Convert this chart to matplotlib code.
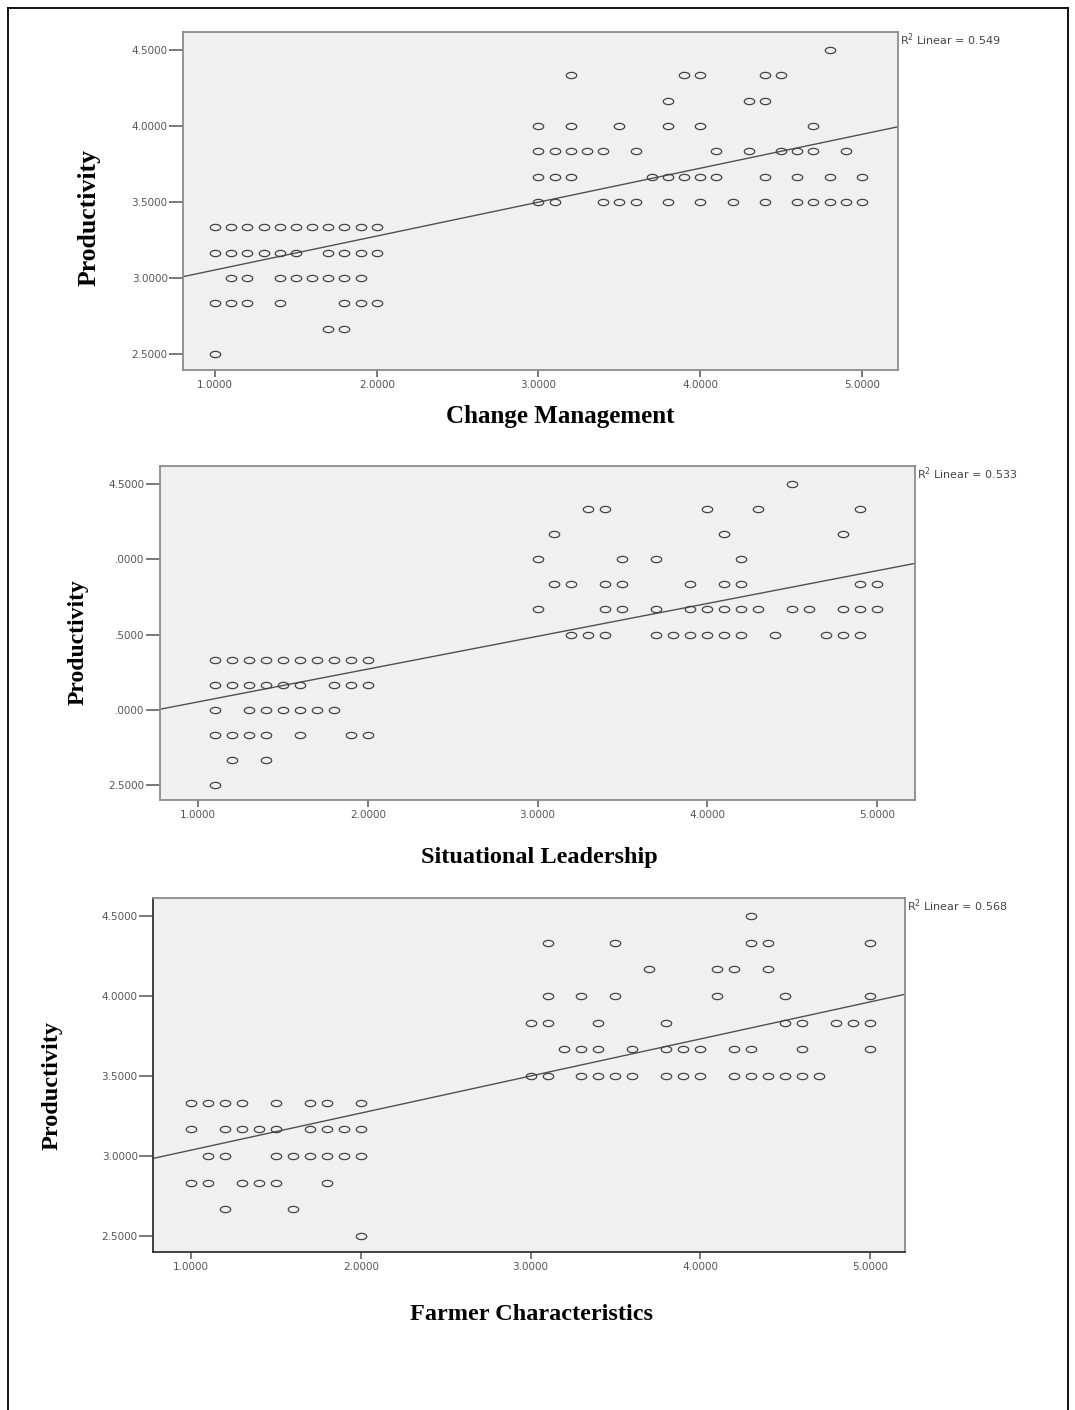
import numpy as np
import matplotlib
matplotlib.use("Agg")
import matplotlib.pyplot as plt
from matplotlib.path import Path
from matplotlib.lines import Line2D

# ---------------- data ----------------
levels = [4.5, 4.3333, 4.1667, 4.0, 3.8333, 3.6667, 3.5,
          3.3333, 3.1667, 3.0, 2.8333, 2.6667, 2.5]

cm_rows = [
    [4.8],
    [3.2, 3.9, 4.0, 4.4, 4.5],
    [3.8, 4.3, 4.4],
    [3.0, 3.2, 3.5, 3.8, 4.0, 4.7],
    [3.0, 3.1, 3.2, 3.3, 3.4, 3.6, 4.1, 4.3, 4.5, 4.6, 4.7, 4.9],
    [3.0, 3.1, 3.2, 3.7, 3.8, 3.9, 4.0, 4.1, 4.4, 4.6, 4.8, 5.0],
    [3.0, 3.1, 3.4, 3.5, 3.6, 3.8, 4.0, 4.2, 4.4, 4.6, 4.7, 4.8, 4.9, 5.0],
    [1.0, 1.1, 1.2, 1.3, 1.4, 1.5, 1.6, 1.7, 1.8, 1.9, 2.0],
    [1.0, 1.1, 1.2, 1.3, 1.4, 1.5, 1.7, 1.8, 1.9, 2.0],
    [1.1, 1.2, 1.4, 1.5, 1.6, 1.7, 1.8, 1.9],
    [1.0, 1.1, 1.2, 1.4, 1.8, 1.9, 2.0],
    [1.7, 1.8],
    [1.0],
]

sl_rows = [
    [4.5],
    [3.3, 3.4, 4.0, 4.3, 4.9],
    [3.1, 4.1, 4.8],
    [3.0, 3.5, 3.7, 4.2],
    [3.1, 3.2, 3.4, 3.5, 3.9, 4.1, 4.2, 4.9, 5.0],
    [3.0, 3.4, 3.5, 3.7, 3.9, 4.0, 4.1, 4.2, 4.3, 4.5, 4.6, 4.8, 4.9, 5.0],
    [3.2, 3.3, 3.4, 3.7, 3.8, 3.9, 4.0, 4.1, 4.2, 4.4, 4.7, 4.8, 4.9],
    [1.1, 1.2, 1.3, 1.4, 1.5, 1.6, 1.7, 1.8, 1.9, 2.0],
    [1.1, 1.2, 1.3, 1.4, 1.5, 1.6, 1.8, 1.9, 2.0],
    [1.1, 1.3, 1.4, 1.5, 1.6, 1.7, 1.8],
    [1.1, 1.2, 1.3, 1.4, 1.6, 1.9, 2.0],
    [1.2, 1.4],
    [1.1],
]

fc_rows = [
    [4.3],
    [3.1, 3.5, 4.3, 4.4, 5.0],
    [3.7, 4.1, 4.2, 4.4],
    [3.1, 3.3, 3.5, 4.1, 4.5, 5.0],
    [3.0, 3.1, 3.4, 3.8, 4.5, 4.6, 4.8, 4.9, 5.0],
    [3.2, 3.3, 3.4, 3.6, 3.8, 3.9, 4.0, 4.2, 4.3, 4.6, 5.0],
    [3.0, 3.1, 3.3, 3.4, 3.5, 3.6, 3.8, 3.9, 4.0, 4.2, 4.3, 4.4, 4.5, 4.6, 4.7],
    [1.0, 1.1, 1.2, 1.3, 1.5, 1.7, 1.8, 2.0],
    [1.0, 1.2, 1.3, 1.4, 1.5, 1.7, 1.8, 1.9, 2.0],
    [1.1, 1.2, 1.5, 1.6, 1.7, 1.8, 1.9, 2.0],
    [1.0, 1.1, 1.3, 1.4, 1.5, 1.8],
    [1.2, 1.6],
    [2.0],
]

# fitted lines (intercept, slope) and R^2 labels
cm_fit = (2.830, 0.223)
sl_fit = (2.834, 0.218)
fc_fit = (2.805, 0.2316)
r2_labels = ["R$^2$ Linear = 0.549", "R$^2$ Linear = 0.533", "R$^2$ Linear = 0.568"]

x_ticks = [1, 2, 3, 4, 5]
x_ticklabels = ["1.0000", "2.0000", "3.0000", "4.0000", "5.0000"]
y_ticks = [4.5, 4.0, 3.5, 3.0, 2.5]
y_ticklabels_full = ["4.5000", "4.0000", "3.5000", "3.0000", "2.5000"]
y_ticklabels_cut = ["4.5000", ".0000", ".5000", ".0000", "2.5000"]
x_titles = ["Change Management", "Situational Leadership", "Farmer Characteristics"]
y_title = "Productivity"


def flatten(rows):
    xs, ys = [], []
    for lv, r in zip(levels, rows):
        xs.extend(r)
        ys.extend([lv] * len(r))
    return np.array(xs), np.array(ys)


# ---------------- layout ----------------
W, H = 1075, 1410
fig = plt.figure(figsize=(W / 100, H / 100), dpi=100)
fig.patch.set_facecolor("white")


def fx(x):
    return x / W


def fy(y):
    return 1 - y / H


# page border
for (x0, y0, x1, y1) in [(8, 8, 8, 1410), (8, 8, 1068, 8), (1068, 8, 1068, 1410)]:
    fig.add_artist(Line2D([fx(x0), fx(x1)], [fy(y0), fy(y1)], color="black", lw=1.3))

t = np.linspace(0, 2 * np.pi, 61)
ell = Path(np.column_stack([np.cos(t), 0.6 * np.sin(t)]))

panels = [
    dict(rows=cm_rows, fit=cm_fit, box=(183, 32, 898, 370), xlim=(0.802, 5.223),
         ylim=(2.395, 4.618), ylabels=y_ticklabels_full, r2=r2_labels[0],
         xt=(560, 416, 18), yt=(89, 218, 18.5)),
    dict(rows=sl_rows, fit=sl_fit, box=(160, 466, 915, 800), xlim=(0.776, 5.224),
         ylim=(2.40, 4.62), ylabels=y_ticklabels_cut, r2=r2_labels[1],
         xt=(539, 858, 17.5), yt=(78, 642, 17)),
    dict(rows=fc_rows, fit=fc_fit, box=(153, 898, 905, 1252), xlim=(0.776, 5.206),
         ylim=(2.40, 4.6125), ylabels=y_ticklabels_full, r2=r2_labels[2],
         xt=(532, 1314, 17.5), yt=(52, 1085, 17.5)),
]

for i, p in enumerate(panels):
    l, tp, r, b = p["box"]
    ax = fig.add_axes([fx(l), fy(b), (r - l) / W, (b - tp) / H])
    ax.set_facecolor("#f0f0f0")
    ax.set_xlim(*p["xlim"])
    ax.set_ylim(*p["ylim"])
    xs, ys = flatten(p["rows"])
    ax.plot(xs, ys, linestyle="none", marker=ell, ms=7.5, mfc="none",
            mec="#444444", mew=0.9, zorder=3)
    b0, m = p["fit"]
    lx = np.array(p["xlim"])
    ax.plot(lx, b0 + m * lx, color="#505050", lw=1.0, zorder=2)

    ax.set_xticks(x_ticks)
    ax.set_xticklabels(x_ticklabels, fontsize=7.5, color="#555555", family="DejaVu Sans")
    ax.set_yticks(y_ticks)
    ax.set_yticklabels(p["ylabels"], fontsize=7.5, color="#555555", family="DejaVu Sans")
    ax.tick_params(axis="y", length=10, width=1.1, color="#555555", pad=1)
    ax.tick_params(axis="x", length=5, width=1.1, color="#555555", pad=2)
    for s in ax.spines.values():
        s.set_color("#8c8c8c")
        s.set_linewidth(1.3)
    if i == 2:
        ax.spines["left"].set_color("#333333")
        ax.spines["bottom"].set_color("#333333")

    fig.text(fx(r + 2), fy(tp + 8), p["r2"], fontsize=8, color="#444444",
             ha="left", va="center", family="DejaVu Sans")
    xx, yy, fs = p["xt"]
    fig.text(fx(xx), fy(yy), x_titles[i], fontsize=fs, fontweight="bold",
             family="Liberation Serif", ha="center", va="center")
    xx, yy, fs = p["yt"]
    fig.text(fx(xx), fy(yy), y_title, fontsize=fs, fontweight="bold",
             family="Liberation Serif", ha="center", va="center", rotation=90)

fig.savefig("out.png", dpi=100, facecolor="white")
